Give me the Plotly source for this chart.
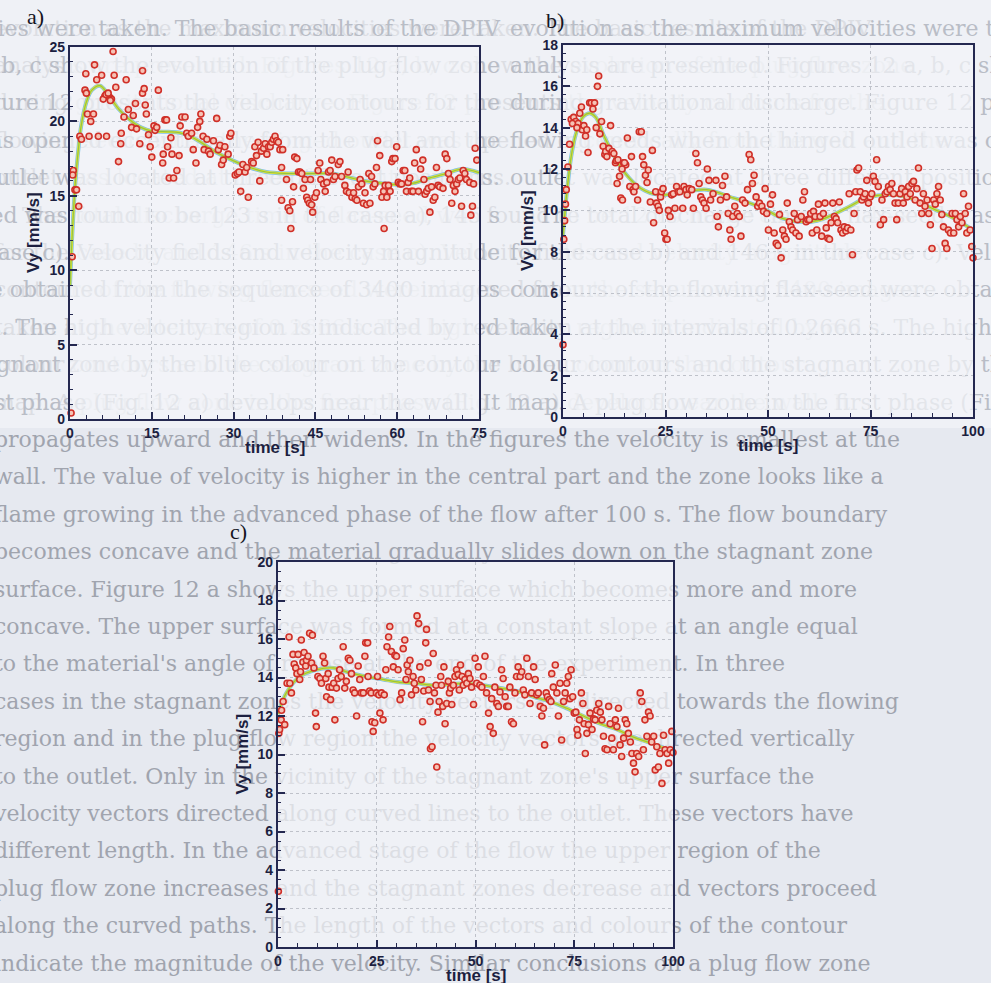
import plotly.graph_objects as go

W, H = 991, 983

# ---------------- data ----------------
# panel a)
a_time = [0.2, 0.6, 0.9, 1.2, 1.6, 0.5, 0.4, 1.8, 2.1, 2.75, 3.0, 2.9, 3.2, 3.5, 3.8, 4.3, 4.5, 4.9, 5.2, 5.8,
          6.4, 6.7, 6.9, 7.3, 7.6, 7.9, 8.1, 8.4, 8.9, 9.3, 9.4, 9.9, 10.3, 10.7, 11.3, 11.6, 12.0, 12.2,
          12.8, 13.3, 13.3, 13.6, 13.8, 14.0, 14.4, 14.7, 15.0, 15.4, 15.6, 15.9, 16.2, 17.0, 17.1, 17.4,
          17.7, 17.9, 18.2, 18.5, 18.7, 19.0, 19.6, 20.0, 20.2, 20.5, 21.1, 21.4, 21.7, 22.3, 22.6, 23.1,
          23.4, 23.8, 24.0, 24.4, 24.6, 25.1, 25.4, 25.7, 26.3, 26.9, 27.2, 27.5, 27.8, 28.1, 28.4, 29.0,
          29.3, 29.5, 30.3, 30.7, 31.0, 31.3, 31.7, 32.1, 32.4, 32.7, 33.3, 33.6, 33.9, 34.2, 34.5, 34.8,
          35.1, 35.5, 35.8, 36.1, 36.4, 36.7, 37.0, 37.3, 37.6, 37.9, 38.2, 38.5, 38.8, 38.8, 39.0, 39.7,
          40.0, 40.3, 40.5, 40.8, 41.0, 41.2, 41.6, 41.9, 42.2, 42.5, 42.8, 43.1, 43.4, 43.6, 43.9, 44.1,
          44.3, 44.5, 44.9, 45.2, 45.5, 45.8, 46.0, 46.5, 46.8, 47.1, 47.4, 47.7, 48.0, 48.3, 48.6, 49.2,
          49.5, 49.8, 50.4, 50.7, 51.0, 51.2, 51.7, 52.0, 52.3, 52.6, 52.9, 53.2, 53.5, 53.8, 54.1, 54.4,
          54.8, 55.0, 55.3, 55.6, 55.9, 56.2, 56.4, 56.8, 57.2, 57.5, 57.6, 57.8, 58.1, 58.4, 58.7, 59.0,
          59.2, 59.6, 59.9, 60.2, 60.5, 60.8, 61.1, 61.4, 61.7, 62.0, 62.3, 62.6, 62.9, 63.2, 63.5, 63.9,
          64.3, 64.7, 64.9, 65.1, 65.4, 65.7, 66.0, 66.3, 66.6, 66.9, 67.2, 67.5, 67.8, 68.4, 68.8, 69.1,
          69.4, 69.7, 70.0, 70.3, 70.6, 70.9, 71.2, 71.5, 71.8, 72.1, 72.4, 72.7, 73.3, 73.5, 73.8, 74.0,
          74.3, 74.6, 6.1, 6.6, 7.0, 7.4]
a_vy = [0.4, 16.7, 15.4, 15.4, 14.3, 16.4, 10.9, 19.0, 18.8, 22.1, 21.9, 23.2, 20.5, 19.0, 20.0, 20.5, 23.8, 22.8, 19.0, 23.1,
        21.7, 19.0, 21.8, 21.6, 21.5, 24.7, 23.1, 22.3, 17.3, 18.5, 19.2, 20.3, 22.8, 20.8, 19.6, 20.4, 21.2, 19.5,
        18.5, 23.4, 21.9, 22.2, 21.1, 20.5, 19.1, 18.3, 17.6, 19.7, 19.4, 19.6, 22.1, 17.2, 17.8, 20.1,
        20.1, 18.3, 16.2, 18.9, 17.8, 16.2, 16.7, 17.7, 19.7, 20.3, 20.3, 19.2, 19.0, 19.2, 18.1, 17.2,
        19.6, 20.0, 20.5, 19.0, 18.1, 18.8, 18.0, 17.8, 18.7, 20.2, 18.1, 18.4, 17.1, 17.4, 18.3, 17.8,
        19.0, 19.2, 16.4, 16.5, 16.6, 15.3, 17.1, 16.6, 16.9, 14.9, 17.3, 17.2, 18.3, 17.7, 18.6, 16.0,
        18.0, 18.2, 18.5, 17.8, 18.3, 18.3, 18.6, 18.8, 19.0, 18.7, 18.6, 18.1, 16.9, 14.7, 18.1, 16.1,
        14.2, 14.0, 12.8, 14.6, 15.6, 17.6, 17.5, 16.6, 16.6, 16.5, 15.5, 16.1, 14.9, 14.7, 14.5, 16.1,
        14.4, 13.9, 14.9, 15.2, 16.7, 17.2, 16.1, 15.8, 15.3, 15.9, 16.6, 16.7, 17.4, 16.1, 16.3, 17.1,
        17.3, 16.3, 15.7, 15.3, 16.6, 15.2, 14.9, 15.2, 14.8, 14.7, 15.6, 16.1, 15.8, 14.5, 15.2, 14.4,
        16.5, 14.5, 16.3, 15.6, 15.8, 16.9, 18.7, 17.7, 14.9, 15.3, 12.8, 15.7, 14.9, 15.7, 15.3, 17.3,
        17.5, 17.5, 18.3, 15.9, 15.8, 15.8, 16.7, 16.7, 15.3, 15.9, 16.2, 15.3, 15.3, 17.2, 18.1, 15.3,
        16.8, 17.4, 16.1, 15.1, 15.3, 15.5, 13.9, 15.6, 14.7, 14.9, 16.9, 15.7, 15.6, 15.5, 17.8, 17.5,
        16.5, 16.1, 14.5, 15.7, 15.3, 15.8, 16.1, 16.2, 14.3, 16.7, 16.5, 16.1, 15.9, 13.7, 14.3, 15.8,
        18.2, 17.4, 21.5, 21.8, 21.9, 21.4]
a_fit_time = [0, 0.5, 1, 1.5, 2, 3, 4, 5.5, 7, 9, 11, 13, 15, 18, 20, 22, 24, 26, 28, 30, 33, 36,
              40, 45, 48, 51, 54, 57, 60, 63, 66, 69, 72, 75]
a_fit_vy = [9.0, 13.0, 16.0, 18.0, 19.6, 21.3, 22.1, 22.4, 21.8, 20.8, 20.1, 19.6, 19.35, 19.3, 19.25,
            19.0, 18.6, 18.1, 17.7, 17.35, 16.9, 16.6, 16.5, 16.5, 16.5, 16.25, 16.0, 15.85, 15.75, 15.85,
            16.2, 16.5, 16.8, 16.55]

# panel b)
b_time = [0.0, 0.2, 0.4, 0.6, 0.8, 1.2, 1.6, 2.0, 2.6, 3.1, 3.7, 4.1, 4.5, 4.7, 5.1, 5.5, 6.1, 6.5, 6.9, 7.3,
          7.7, 8.4, 8.7, 8.1, 9.0, 9.4, 9.8, 10.2, 10.4, 10.7, 11.2, 11.6, 12.0, 12.4, 12.8, 13.0, 13.2,
          13.4, 13.8, 14.1, 14.5, 14.8, 15.3, 15.7, 16.3, 16.7, 17.1, 17.3, 17.7, 18.2, 18.6, 19.1, 19.4,
          19.7, 20.1, 20.5, 20.8, 21.3, 21.8, 22.1, 22.6, 22.8, 23.2, 23.5, 23.8, 24.0, 24.4, 24.8, 25.1,
          25.4, 25.7, 26.1, 26.5, 26.9, 27.3, 27.7, 28.1, 28.5, 29.2, 29.5, 30.0, 30.3, 30.8, 31.4, 31.8,
          32.4, 32.8, 33.2, 33.6, 34.0, 34.4, 34.9, 35.2, 35.6, 36.0, 36.6, 37.3, 37.6, 37.9, 38.4, 38.9,
          39.5, 39.9, 40.3, 40.7, 41.0, 41.4, 41.9, 42.5, 43.0, 43.4, 43.8, 44.4, 45.0, 45.4, 45.8, 46.2,
          46.6, 47.1, 47.5, 47.9, 48.5, 48.9, 49.3, 49.7, 50.1, 50.6, 51.1, 51.5, 52.0, 52.4, 52.8, 53.2,
          53.6, 54.0, 54.4, 54.7, 55.2, 55.6, 56.0, 56.4, 56.8, 57.2, 57.6, 58.1, 58.5, 58.9, 59.3, 59.7,
          60.1, 60.4, 60.8, 61.1, 61.5, 61.9, 62.3, 62.7, 63.1, 63.5, 63.9, 64.2, 64.6, 65.0, 65.4, 65.8,
          66.2, 66.6, 67.0, 67.4, 67.8, 68.2, 68.6, 69.0, 69.4, 69.8, 70.2, 70.6, 71.0, 71.4, 71.7, 72.1,
          72.5, 72.9, 73.3, 73.7, 74.1, 74.5, 74.9, 75.3, 75.7, 76.1, 76.5, 76.9, 77.4, 77.8, 78.2, 78.6,
          79.0, 79.4, 79.8, 80.2, 80.6, 81.0, 81.4, 81.8, 82.2, 82.6, 83.0, 83.5, 83.9, 84.3, 84.7, 85.1,
          85.5, 85.9, 86.3, 86.7, 87.1, 87.5, 87.9, 88.3, 88.8, 89.2, 89.6, 90.0, 90.4, 90.8, 91.2, 91.6,
          92.0, 92.4, 92.8, 93.2, 93.6, 94.0, 94.5, 94.9, 95.3, 95.7, 96.1, 96.5, 96.9, 97.3, 97.7, 98.1,
          98.5, 98.9, 99.3, 99.7, 100.0, 2.3, 3.4, 5.8, 14.4, 15.0]
b_vy = [3.5, 8.6, 9.5, 10.3, 11.0, 12.1, 13.2, 14.4, 14.5, 14.3, 14.2, 14.7, 15.0, 13.9, 14.1, 13.6, 12.8, 15.2, 15.2, 14.9,
        15.2, 16.0, 16.5, 14.0, 13.7, 14.3, 13.1, 12.7, 12.85, 12.6, 13.0, 14.1, 12.85, 12.75, 12.3, 12.4, 11.3,
        12.45, 11.65, 10.6, 10.5, 12.3, 12.2, 13.5, 11.15, 12.6, 11.0, 10.9, 11.15, 10.5, 13.8, 13.8, 12.6,
        12.2, 11.7, 11.35, 11.95, 10.4, 12.9, 9.4, 10.9, 10.35, 10.2, 10.0, 10.65, 10.9, 11.05, 8.9, 8.6,
        8.6, 10.0, 9.7, 10.75, 10.8, 10.1, 11.15, 10.9, 10.9, 10.1, 11.15, 11.0, 10.75, 11.05, 11.0, 10.1,
        12.75, 12.3, 11.3, 10.65, 10.5, 10.35, 10.1, 12.0, 11.45, 10.5, 10.8, 11.45, 9.7, 9.2, 10.5, 11.2,
        11.65, 10.65, 9.85, 9.05, 8.6, 9.7, 10.2, 9.85, 9.7, 8.75, 10.5, 10.35, 11.0, 12.7, 12.45, 11.3,
        11.7, 10.65, 10.2, 10.35, 10.2, 9.95, 11.05, 9.85, 9.05, 10.3, 10.75, 8.9, 8.4, 8.3, 9.8, 7.7,
        9.05, 8.75, 8.6, 10.35, 9.45, 9.2, 9.05, 9.85, 8.9, 9.55, 8.75, 9.7, 10.5, 10.9, 9.45, 9.55,
        9.55, 9.85, 8.9, 9.95, 9.7, 9.05, 10.3, 9.7, 8.75, 9.85, 10.35, 9.15, 8.65, 8.6, 9.4, 10.35,
        9.7, 9.6, 9.4, 10.4, 9.05, 8.9, 9.2, 9.0, 9.15, 10.8, 9.05, 7.85, 9.85, 10.9, 11.95, 12.05,
        10.9, 10.5, 10.65, 10.8, 11.45, 10.35, 10.65, 10.8, 11.65, 11.4, 12.45, 11.15, 9.3, 10.5, 9.55, 10.8,
        10.9, 11.15, 11.0, 11.3, 10.8, 10.35, 9.55, 10.35, 10.8, 11.05, 10.35, 10.9, 10.65, 11.15, 10.8, 11.3,
        11.4, 10.5, 11.05, 12.05, 10.35, 9.85, 10.8, 10.2, 10.5, 9.85, 9.3, 8.15, 10.5, 10.3, 10.8, 11.15,
        10.5, 9.8, 9.2, 8.4, 8.15, 9.05, 8.9, 9.85, 8.9, 9.85, 9.55, 9.2, 9.7, 9.4, 10.8, 9.85,
        8.9, 10.2, 9.05, 8.25, 7.7, 14.2, 14.0, 13.9, 12.0, 12.3]
b_fit_time = [0, 1, 2, 3, 4, 5, 6.5, 8, 10, 12, 14, 16, 18, 20, 22, 25, 29, 35, 41.5, 45.6, 49.7, 53.7,
              57.8, 62, 66, 70, 74, 80.6, 86, 90, 94.5, 100]
b_fit_vy = [8.8, 11.0, 12.6, 13.6, 14.2, 14.55, 14.7, 14.5, 13.6, 12.8, 12.1, 11.6, 11.2, 10.95, 10.8,
            10.75, 10.86, 11.0, 10.6, 10.35, 10.0, 9.6, 9.45, 9.5, 9.8, 10.2, 10.6, 10.75, 10.5, 10.1,
            9.7, 9.05]

# panel c)
c_time = [0.1, 0.2, 0.4, 0.8, 1.3, 1.7, 0.9, 2.3, 2.8, 3.0, 3.4, 3.8, 4.1, 4.5, 4.8, 5.1, 5.5, 5.7, 5.9, 6.3,
          6.6, 7.0, 7.2, 7.6, 8.0, 8.5, 8.7, 9.1, 9.5, 9.7, 10.1, 10.6, 11.0, 11.4, 11.8, 12.1, 12.3,
          12.7, 12.9, 13.3, 13.7, 14.1, 14.4, 14.8, 15.2, 15.6, 16.0, 16.5, 16.9, 17.3, 17.8, 18.2, 18.6,
          19.0, 19.4, 19.9, 20.3, 20.7, 21.1, 21.6, 22.0, 22.2, 22.7, 22.8, 23.2, 23.6, 23.8, 24.1, 24.5,
          24.9, 25.2, 25.5, 25.8, 26.2, 26.6, 26.9, 27.3, 27.6, 28.0, 28.3, 28.7, 29.2, 29.6, 30.0, 30.4,
          30.9, 31.3, 31.7, 32.1, 32.4, 32.7, 33.0, 33.4, 33.8, 34.2, 34.5, 34.9, 35.2, 35.6, 35.9, 36.3,
          36.6, 36.9, 37.4, 37.6, 38.0, 38.1, 38.5, 38.6, 39.0, 39.3, 39.6, 40.0, 40.2, 40.5, 40.8, 41.2,
          41.4, 41.7, 42.0, 42.3, 42.7, 43.1, 43.4, 43.7, 44.0, 44.4, 44.8, 45.2, 45.6, 45.9, 46.2, 46.6,
          46.9, 47.3, 47.8, 48.2, 48.6, 49.0, 49.5, 49.9, 50.3, 50.7, 51.1, 51.6, 52.0, 52.4, 52.8, 53.3,
          53.7, 54.1, 54.5, 54.9, 55.4, 55.8, 56.2, 56.6, 57.0, 57.5, 57.9, 58.3, 58.7, 59.1, 59.6, 60.0,
          60.4, 60.8, 61.3, 61.7, 62.1, 62.5, 63.0, 63.4, 63.8, 64.2, 64.7, 65.1, 65.5, 65.9, 66.4, 66.8,
          67.2, 67.5, 67.9, 68.2, 68.7, 69.1, 69.3, 69.7, 70.2, 70.6, 71.0, 71.4, 71.8, 72.3, 72.7, 73.1,
          73.5, 73.9, 74.2, 74.6, 75.0, 75.4, 75.7, 75.9, 76.3, 76.8, 77.2, 77.5, 77.8, 78.2, 78.6, 79.0,
          79.5, 79.9, 80.3, 80.7, 81.2, 81.6, 82.0, 82.4, 82.8, 83.3, 83.7, 84.1, 84.5, 84.9, 85.4, 85.8,
          86.2, 86.6, 87.0, 87.5, 87.9, 88.3, 88.7, 89.2, 89.6, 90.0, 90.4, 90.8, 91.3, 91.7, 92.1, 92.5,
          92.9, 93.4, 93.8, 94.2, 94.6, 95.1, 95.5, 95.9, 96.3, 96.7, 97.2, 97.6, 98.0, 98.5, 98.9, 99.3,
          99.7, 100.0]
c_vy = [2.9, 11.1, 11.3, 11.8, 12.75, 11.55, 12.3, 13.7, 16.1, 13.7, 13.2, 15.2, 14.7, 14.5, 14.2, 15.2, 13.9, 14.3, 15.95, 14.8,
        15.3, 14.6, 14.9, 15.1, 16.3, 14.75, 16.2, 14.5, 12.15, 11.45, 14.05, 13.95, 13.7, 15.1, 14.75, 13.95, 13.0,
        14.2, 13.5, 12.85, 13.5, 13.7, 11.8, 13.45, 13.95, 14.4, 14.05, 15.6, 13.45, 13.8, 15.0, 14.9, 14.2,
        13.35, 13.2, 12.0, 14.6, 13.9, 13.2, 13.2, 15.1, 15.8, 15.8, 14.05, 13.3, 13.2, 11.7, 11.2, 11.65,
        13.2, 14.05, 13.1, 12.15, 13.2, 11.8, 13.1, 14.4, 15.6, 16.1, 16.65, 15.35, 14.55, 15.15, 15.1, 14.4,
        12.85, 13.2, 15.5, 15.95, 13.9, 14.65, 14.3, 14.9, 13.1, 14.05, 13.7, 13.35, 17.2, 16.8, 14.55, 13.9,
        11.7, 13.3, 15.8, 16.5, 14.75, 13.35, 12.75, 10.3, 10.4, 15.25, 13.2, 13.6, 9.35, 12.2, 12.75, 14.05,
        13.6, 12.5, 14.55, 11.6, 12.65, 13.8, 13.2, 13.45, 12.6, 13.6, 14.05, 14.4, 14.15, 13.35, 14.65, 14.05,
        13.6, 13.9, 13.7, 14.2, 13.95, 13.5, 12.6, 15.0, 13.7, 14.55, 13.6, 13.5, 14.05, 15.1, 13.2, 12.15,
        11.45, 12.9, 11.1, 13.5, 12.65, 12.5, 13.25, 14.4, 13.95, 13.0, 12.5, 12.5, 13.5, 11.7, 11.6, 13.2,
        14.05, 14.55, 14.05, 14.3, 13.35, 13.1, 15.0, 14.05, 12.65, 13.2, 14.55, 13.9, 13.1, 13.2, 12.5, 12.0,
        12.4, 10.5, 13.2, 13.0, 12.85, 12.75, 14.2, 13.5, 14.65, 13.2, 12.0, 13.7, 10.75, 12.75, 13.2, 13.7,
        14.05, 12.9, 14.4, 13.0, 12.15, 12.2, 11.3, 11.0, 11.8, 13.2, 12.65, 11.6, 10.05, 11.1, 11.55, 12.15,
        11.3, 11.85, 11.8, 12.3, 12.65, 12.2, 11.8, 10.95, 10.3, 10.25, 12.5, 11.6, 10.85, 10.25, 11.8, 11.45,
        12.4, 10.5, 9.9, 10.85, 11.8, 11.6, 11.1, 10.65, 10.05, 9.55, 9.1, 10.05, 9.9, 13.2, 12.75, 10.25,
        11.8, 10.95, 12.2, 12.0, 10.65, 10.95, 9.2, 10.4, 9.35, 10.05, 8.5, 11.0, 10.25, 10.05, 9.55, 10.25,
        11.2, 10.1]
c_fit_time = [0, 2.1, 5.5, 9.7, 14, 18, 22.4, 26.6, 30.9, 35, 39.3, 43.5, 47.8, 52, 56.2, 60.4, 64.7,
              68.9, 73.1, 77.3, 81.6, 85.8, 90, 94.3, 100]
c_fit_vy = [12.1, 13.2, 14.05, 14.4, 14.5, 14.25, 14.05, 13.9, 13.75, 13.7, 13.6, 13.65, 13.7, 13.6,
            13.45, 13.3, 13.0, 12.75, 12.4, 12.0, 11.6, 11.3, 10.9, 10.6, 10.15]

a_xticks = [0, 15, 30, 45, 60, 75]
a_yticks = [0, 5, 10, 15, 20, 25]
b_xticks = [0, 25, 50, 75, 100]
b_yticks = [0, 2, 4, 6, 8, 10, 12, 14, 16, 18]
c_xticks = [0, 25, 50, 75, 100]
c_yticks = [0, 2, 4, 6, 8, 10, 12, 14, 16, 18, 20]

panel_labels = ["a)", "b)", "c)"]
x_title = "time [s]"
y_title = "Vy [mm/s]"

# faint page text that shows through the scan
page_lines = [
    "evolution as the maximum velocities were taken. The basic results of the DPIV",
    "analysis are presented. Figures 12 a, b, c show the evolution of the plug flow zone",
    "during gravitational discharge. Figure 12 presents the velocity contours for the",
    "flowing seeds when the hinged outlet was opened eccentrically from the wall and the",
    "outlet was located at three different positions.",
    "    The total discharge time of flax-seed was found to be 123 s in the case a), 145 s",
    "for the case b) and 146 s in the case c). Velocity fields and velocity magnitude",
    "contours of the flowing flax-seed were obtained from the sequence of 3400 images",
    "taken at the intervals of 0.2666 s. The high velocity region is indicated by red",
    "colour contours and the stagnant zone by the blue colour on the contour",
    "map. A plug flow zone in the first phase (Fig. 12 a) develops near the wall. It",
    "propagates upward and then widens. In the figures the velocity is smallest at the",
    "wall. The value of velocity is higher in the central part and the zone looks like a",
    "flame growing in the advanced phase of the flow after 100 s. The flow boundary",
    "becomes concave and the material gradually slides down on the stagnant zone",
    "surface. Figure 12 a shows the upper surface which becomes more and more",
    "concave. The upper surface was formed at a constant slope at an angle equal",
    "to the material's angle of repose at the end of the experiment. In three",
    "cases in the stagnant zones the velocity vectors are directed towards the flowing",
    "region and in the plug flow region the velocity vectors are directed vertically",
    "to the outlet. Only in the vicinity of the stagnant zone's upper surface the",
    "velocity vectors directed along curved lines to the outlet. These vectors have",
    "different length. In the advanced stage of the flow the upper region of the",
    "plug flow zone increases and the stagnant zones decrease and vectors proceed",
    "along the curved paths. The length of the vectors and colours of the contour",
    "indicate the magnitude of the velocity. Similar conclusions on a plug flow zone",
]
page_line_y = [30 + 37.4 * i for i in range(len(page_lines))]
n_top_lines = 11          # lines lying under the pasted a)/b) figure (shifted copy there)

# ---------------- figure ----------------
def px(x):
    return x / W

def py(y):
    return 1 - y / H

PAGE = "#e6e9f0"            # visible colour of the scanned page
PAPER = "#c5ccda"           # paper colour below the translucent plot background
PLOT_BG = "rgba(243,244,248,0.72)"
TEXT_COL = "#a0a4ae"
TOP_TEXT_COL = "#b9bdc6"
TOP_H = 428                 # height (px) of the pasted a)/b) figure strip

fig = go.Figure()

# 1) page text over the whole sheet
fig.add_trace(go.Scatter(
    x=[-6] * len(page_lines), y=page_line_y, text=page_lines, mode="text",
    textposition="middle right", cliponaxis=True, hoverinfo="skip",
    textfont=dict(family="DejaVu Serif", size=22, color=TEXT_COL),
    xaxis="x", yaxis="y", showlegend=False))

# 2) the a)/b) figure strip shows the same lines split in two halves (scan offset)
top_lines = page_lines[:n_top_lines]
top_y = page_line_y[:n_top_lines]
fig.add_trace(go.Scatter(
    x=[500] * len(top_lines), y=top_y, text=top_lines, mode="text",
    textposition="middle left", cliponaxis=True, hoverinfo="skip",
    textfont=dict(family="DejaVu Serif", size=22, color=TOP_TEXT_COL),
    xaxis="x2", yaxis="y2", showlegend=False))
fig.add_trace(go.Scatter(
    x=[510] * len(top_lines), y=top_y, text=top_lines, mode="text",
    textposition="middle right", cliponaxis=True, hoverinfo="skip",
    textfont=dict(family="DejaVu Serif", size=22, color=TOP_TEXT_COL),
    xaxis="x2", yaxis="y2", showlegend=False))

panels = [
    # (time, vy, fit_t, fit_v, xticks, yticks, xminor, yminor, box(left, right, top, bottom))
    (a_time, a_vy, a_fit_time, a_fit_vy, a_xticks, a_yticks, 3, 1, (70, 479, 47, 419)),
    (b_time, b_vy, b_fit_time, b_fit_vy, b_xticks, b_yticks, 5, 0.4, (563, 973, 45, 417)),
    (c_time, c_vy, c_fit_time, c_fit_vy, c_xticks, c_yticks, 5, 0.5, (278, 673, 562, 947)),
]
label_pos = [(35, 16), (555, 21), (238, 531)]

hidden = dict(visible=False, fixedrange=True, automargin=False)
layout = dict(
    template="none",
    width=W, height=H, margin=dict(l=0, r=0, t=0, b=0, pad=0, autoexpand=False),
    paper_bgcolor=PAPER, plot_bgcolor=PLOT_BG,
    showlegend=False,
    xaxis=dict(hidden, domain=[0, 1], range=[0, W]),
    yaxis=dict(hidden, domain=[0, 1], range=[H, 0]),
    xaxis2=dict(hidden, domain=[0, 1], range=[0, W], anchor="y2"),
    yaxis2=dict(hidden, domain=[py(TOP_H), 1], range=[TOP_H, 0], anchor="x2"),
    annotations=[],
)

frame_col = "#242850"
ink = "#1c1f40"
tick_font = dict(family="Liberation Sans", size=14, color=ink, weight="bold")

for i, (t, v, ft, fv, xt, yt, xm, ym, box) in enumerate(panels):
    n = i + 3
    xa, ya = f"x{n}", f"y{n}"
    left, right, top, bottom = box
    fig.add_trace(go.Scatter(x=ft, y=fv, mode="lines", line=dict(color="#7cc0e8", width=4.0, shape="spline"),
                             xaxis=xa, yaxis=ya, hoverinfo="skip"))
    fig.add_trace(go.Scatter(x=ft, y=fv, mode="lines", line=dict(color="#e6e23a", width=2.6, shape="spline"),
                             xaxis=xa, yaxis=ya, hoverinfo="skip"))
    fig.add_trace(go.Scatter(x=ft, y=fv, mode="lines", line=dict(color="#93c640", width=1.2, shape="spline"),
                             xaxis=xa, yaxis=ya, hoverinfo="skip"))
    fig.add_trace(go.Scatter(x=t, y=v, mode="markers",
                             marker=dict(symbol="circle", size=6, color="#f5c3b6",
                                         line=dict(color="#d02f28", width=1.6)),
                             xaxis=xa, yaxis=ya, cliponaxis=False))
    common = dict(showline=True, linecolor=frame_col, linewidth=2.2, mirror=True,
                  ticks="inside", ticklen=7, tickwidth=2, tickcolor=frame_col,
                  tickfont=tick_font, showgrid=True, gridcolor="#bfc2ca", griddash="dot",
                  gridwidth=1, zeroline=False, fixedrange=True, automargin=False)
    layout[f"xaxis{n}"] = dict(common, domain=[px(left), px(right)], anchor=ya,
                               range=[xt[0], xt[-1]], tickvals=xt, ticktext=[str(k) for k in xt],
                               minor=dict(dtick=xm, ticks="inside", ticklen=4, tickcolor=frame_col,
                                          tickwidth=1, showgrid=False))
    layout[f"yaxis{n}"] = dict(common, domain=[py(bottom), py(top)], anchor=xa,
                               range=[yt[0], yt[-1]], tickvals=yt, ticktext=[str(k) for k in yt],
                               minor=dict(dtick=ym, ticks="inside", ticklen=3, tickcolor=frame_col,
                                          tickwidth=1, showgrid=False))
    # axis titles
    layout["annotations"].append(dict(
        text=x_title, xref="paper", yref="paper", x=px((left + right) / 2), y=py(bottom + 28),
        showarrow=False, xanchor="center", yanchor="middle",
        font=dict(family="Liberation Sans", size=17, color=ink, weight="bold")))
    layout["annotations"].append(dict(
        text=y_title, xref="paper", yref="paper", x=px(left - 36), y=py((top + bottom) / 2),
        showarrow=False, xanchor="center", yanchor="middle", textangle=-90,
        font=dict(family="Liberation Sans", size=17, color=ink, weight="bold")))
    lx, ly = label_pos[i]
    layout["annotations"].append(dict(
        text=panel_labels[i], xref="paper", yref="paper", x=px(lx), y=py(ly),
        showarrow=False, xanchor="center", yanchor="middle",
        font=dict(family="Liberation Serif", size=22, color="#15151f")))

fig.update_layout(**layout)

# remove the default page margin so the figure sits exactly in the window
post = (
    "var de=document.documentElement, b=document.body;"
    "de.style.margin='0'; b.style.margin='0'; de.style.padding='0'; b.style.padding='0';"
    "de.style.overflow='hidden'; b.style.overflow='hidden';"
    "de.style.background='" + PAGE + "'; b.style.background='" + PAGE + "';"
)
fig.write_html("out.html", config={"displayModeBar": False}, post_script=post)
